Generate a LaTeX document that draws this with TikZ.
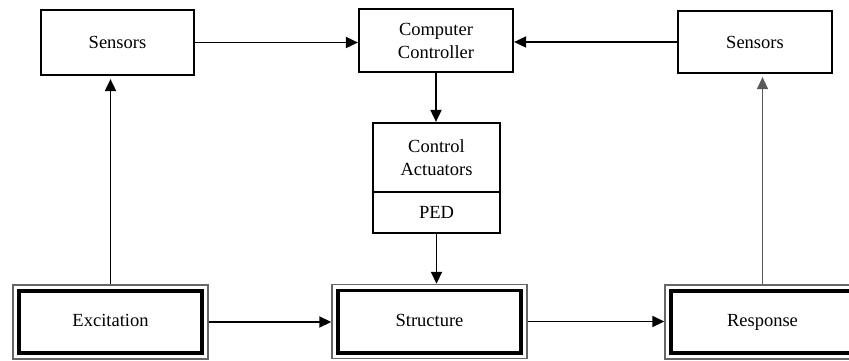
\documentclass[tikz,border=0pt]{standalone}
\usepackage{fontspec}
\setmainfont{Liberation Serif}
\usetikzlibrary{arrows.meta}
\begin{document}
\begin{tikzpicture}[x=1pt,y=-1pt,
  box/.style={draw=black,line width=2.2pt,rectangle,inner sep=0pt,align=center,
    font=\fontsize{18.5}{23}\selectfont},
  dbox/.style={draw=black!60,line width=1.4pt,rectangle,inner sep=0pt,align=center,
    text height=12.5pt,text depth=3.5pt,
    minimum width=195pt,minimum height=74pt,font=\fontsize{18.5}{23}\selectfont},
  inbox/.style={draw=black,line width=3.6pt},
  arr/.style={line width=1.8pt,-{Triangle[length=12pt,width=11pt]}},
  garr/.style={line width=1.3pt,draw=black!65,-{Triangle[length=12pt,width=11pt]}}]
\path[use as bounding box,clip] (0,0) rectangle (849,361);
% top row
\node[box,minimum width=153pt,minimum height=65pt] (sl) at (117.5,42.5) {Sensors};
\node[box,minimum width=154pt,minimum height=63pt] (ctrl) at (436,40.5) {Computer\\Controller};
\node[box,minimum width=154pt,minimum height=62pt] (sr) at (755,42) {Sensors};
% actuators
\node[box,minimum width=127pt,minimum height=69pt] (act) at (436.5,157.5) {Control\\Actuators};
\node[box,minimum width=127pt,minimum height=41pt] (ped) at (436.5,212.5) {PED};
% bottom row
\node[dbox] (exc) at (110.5,322) {Excitation};
\node[dbox] (str) at (429.5,321.5) {Structure};
\node[dbox] (res) at (762.5,322) {Response};
\foreach \n in {exc,str,res}
  \draw[inbox] ([shift={(6.5,6.5)}]\n.north west) rectangle ([shift={(-6.5,-6.5)}]\n.south east);
% connectors
\draw[arr] (sl.east) -- (sl.east -| ctrl.west);
\draw[arr] (sr.west) -- (sr.west -| ctrl.east);
\draw[arr] (ctrl.south) -- (ctrl.south |- act.north);
\draw[arr] (ped.south) -- (ped.south |- str.north);
\draw[arr] (exc.east) -- (exc.east -| str.west);
\draw[arr] (str.east) -- (str.east -| res.west);
\draw[arr] (exc.north) -- ([yshift=-3pt]exc.north |- sl.south);
\draw[garr] (res.north) -- ([yshift=-3pt]res.north |- sr.south);
\end{tikzpicture}
\end{document}
